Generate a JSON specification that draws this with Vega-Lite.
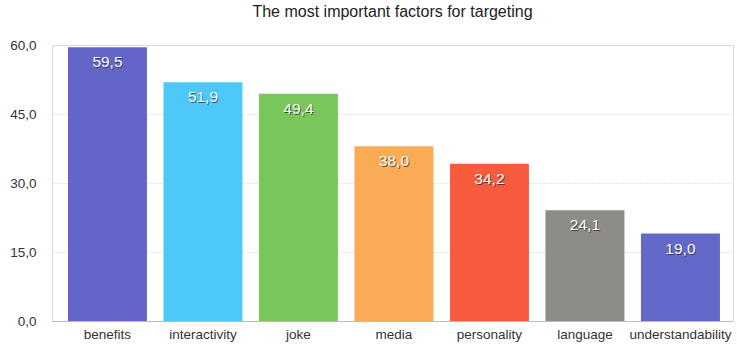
{
  "$schema": "https://vega.github.io/schema/vega-lite/v6.json",
  "autosize": {"type": "none"},
  "width": 681,
  "height": 276,
  "padding": {"left": 52, "top": 45, "right": 4, "bottom": 24},
  "background": "white",
  "config": {
    "locale": {
      "number": {"decimal": ",", "thousands": ".", "grouping": [3], "currency": ["", " €"]}
    }
  },
  "title": {
    "text": "The most important factors for targeting",
    "anchor": "middle",
    "font": "Liberation Sans",
    "fontSize": 16,
    "fontWeight": "normal",
    "color": "#222222",
    "offset": 18
  },
  "data": {
    "values": [
      {"factor": "benefits", "value": 59.5, "color": "#6366c6"},
      {"factor": "interactivity", "value": 51.9, "color": "#4ec8f9"},
      {"factor": "joke", "value": 49.4, "color": "#79c75b"},
      {"factor": "media", "value": 38.0, "color": "#f9ab55"},
      {"factor": "personality", "value": 34.2, "color": "#f65b3d"},
      {"factor": "language", "value": 24.1, "color": "#8d8b88"},
      {"factor": "understandability", "value": 19.0, "color": "#6468c9"}
    ]
  },
  "encoding": {
    "x": {
      "field": "factor",
      "type": "nominal",
      "sort": null,
      "scale": {"paddingInner": 0.173, "paddingOuter": 0.152, "align": 0.55},
      "axis": {
        "title": null,
        "labelAngle": 0,
        "labelFont": "Liberation Sans",
        "labelFontSize": 13.5,
        "labelColor": "#333333",
        "labelPadding": 6,
        "ticks": false,
        "domainColor": "#bbbbbb",
        "grid": false
      }
    },
    "y": {
      "field": "value",
      "type": "quantitative",
      "scale": {"domain": [0, 60], "nice": false},
      "axis": {
        "title": null,
        "values": [0, 15, 30, 45, 60],
        "format": ".1f",
        "labelFont": "Liberation Sans",
        "labelFontSize": 13.5,
        "labelColor": "#333333",
        "labelPadding": 16,
        "ticks": false,
        "domain": false,
        "grid": true,
        "gridColor": "#cccccc",
        "gridDash": [1, 2]
      }
    }
  },
  "layer": [
    {
      "mark": {"type": "bar"},
      "encoding": {
        "color": {"field": "color", "type": "nominal", "scale": null}
      }
    },
    {
      "mark": {
        "type": "text",
        "baseline": "middle",
        "dy": 16,
        "dx": 0.8,
        "font": "Liberation Sans",
        "fontSize": 15.5,
        "color": "#222222",
        "opacity": 0.7
      },
      "encoding": {
        "text": {"field": "value", "type": "quantitative", "format": ".1f"}
      }
    },
    {
      "mark": {
        "type": "text",
        "baseline": "middle",
        "dy": 15,
        "font": "Liberation Sans",
        "fontSize": 15.5,
        "color": "white"
      },
      "encoding": {
        "text": {"field": "value", "type": "quantitative", "format": ".1f"}
      }
    }
  ]
}
